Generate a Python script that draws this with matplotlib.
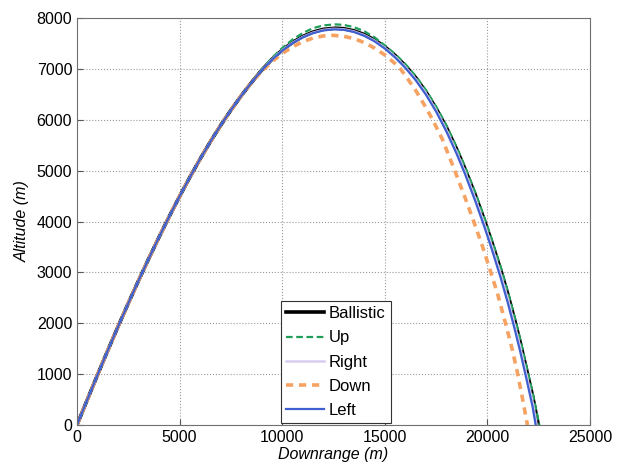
import matplotlib
matplotlib.use("Agg")
import matplotlib.pyplot as plt

# trajectory data (downrange m, altitude m)
# the climb is the same for all five cases
climb_x = [0, 500, 1000, 1500, 2000, 2500, 3000, 3500, 4000, 4500, 5000, 5500,
           6000, 6500, 7000, 7500, 8000, 8500]
climb_y = [0, 496, 985, 1465, 1935, 2394, 2840, 3274, 3695, 4103, 4495, 4871,
           5230, 5570, 5890, 6190, 6470, 6731]

ballistic_x = [9000, 9500, 10000, 10500, 11000, 11500, 12000, 12600, 13000, 13500,
               14000, 14500, 15000, 15500, 16000, 16500, 17000, 17500, 18000, 18500,
               18900, 19400, 19830, 20200, 20640, 21000, 21330, 21600, 21910, 22200, 22480]
ballistic_y = [6975, 7188, 7369, 7519, 7637, 7723, 7777, 7800, 7790, 7748,
               7675, 7570, 7433, 7264, 7064, 6830, 6550, 6220, 5850, 5420,
               5040, 4530, 4050, 3610, 3060, 2560, 2060, 1620, 1080, 570, 0]

up_x = [9000, 9500, 10000, 10500, 11000, 11500, 12000, 12600, 13000, 13500,
        14000, 14500, 15000, 15500, 16000, 16500, 17000, 17500, 18000, 18500,
        18900, 19400, 19830, 20200, 20640, 21000, 21330, 21600, 21910, 22200, 22530]
up_y = [6990, 7215, 7410, 7575, 7705, 7800, 7855, 7875, 7865, 7820,
        7740, 7620, 7462, 7292, 7094, 6862, 6585, 6258, 5890, 5462,
        5085, 4578, 4100, 3662, 3114, 2616, 2118, 1680, 1142, 636, 0]

right_x = [9000, 9500, 10000, 10500, 11000, 11500, 12000, 12500, 13000, 13500,
           14000, 14500, 15000, 15500, 16000, 16500, 17000, 17500, 18000, 18500,
           18900, 19400, 19830, 20200, 20640, 21000, 21330, 21600, 21910, 22200, 22400]
right_y = [6972, 7184, 7363, 7512, 7628, 7712, 7765, 7788, 7778, 7736,
           7662, 7555, 7415, 7243, 7040, 6803, 6522, 6190, 5805, 5370,
           4985, 4465, 3980, 3535, 2975, 2470, 1960, 1525, 975, 455, 0]

down_x = [9000, 9500, 10000, 10500, 11000, 11500, 12000, 12450, 13000, 13500,
          14000, 14500, 15000, 15500, 15720, 16000, 16500, 17000, 17330, 17800,
          18380, 18900, 19350, 19750, 20150, 20500, 20880, 21200, 21450, 21700, 21950]
down_y = [6950, 7141, 7302, 7433, 7534, 7606, 7648, 7660, 7642, 7594,
          7517, 7409, 7272, 7105, 7022, 6870, 6580, 6240, 6000, 5620,
          5030, 4480, 3980, 3520, 3020, 2570, 2000, 1500, 1050, 540, 0]

left_x = [9000, 9500, 10000, 10500, 11000, 11500, 12000, 12500, 13000, 13500,
          14000, 14500, 15000, 15500, 16000, 16500, 17000, 17500, 18000, 18500,
          18900, 19400, 19830, 20200, 20640, 21000, 21330, 21600, 21910, 22200, 22350]
left_y = [6970, 7180, 7358, 7505, 7620, 7703, 7755, 7778, 7768, 7725,
          7650, 7542, 7400, 7225, 7020, 6780, 6495, 6160, 5770, 5330,
          4940, 4410, 3920, 3470, 2900, 2390, 1880, 1440, 890, 360, 0]

x_ticks = [0, 5000, 10000, 15000, 20000, 25000]
y_ticks = [0, 1000, 2000, 3000, 4000, 5000, 6000, 7000, 8000]

plt.rcParams['font.family'] = ['Liberation Sans', 'DejaVu Sans']

fig = plt.figure(figsize=(6.17, 4.68), dpi=100)
ax = fig.add_axes([0.1248, 0.0919, 0.8315, 0.8696])

ax.plot(climb_x + ballistic_x, climb_y + ballistic_y, color='black', lw=2.6,
        label='Ballistic')
ax.plot(climb_x + up_x, climb_y + up_y, color='#1f9e5a', lw=1.6,
        ls=(0, (3, 1.6)), label='Up')
ax.plot(climb_x + right_x, climb_y + right_y, color='#d9ccef', lw=1.8,
        label='Right')
ax.plot(climb_x + down_x, climb_y + down_y, color='#f5a263', lw=2.6,
        ls=(0, (2, 1.6)), label='Down')
ax.plot(climb_x + left_x, climb_y + left_y, color='#3f5fd0', lw=1.6,
        label='Left')

ax.set_xlim(0, 25000)
ax.set_ylim(0, 8000)
ax.set_xticks(x_ticks)
ax.set_yticks(y_ticks)
ax.tick_params(direction='in', labelsize=11.5, length=4, color='#555555')
ax.grid(True, ls=':', color='#999999', lw=0.8)
for s in ax.spines.values():
    s.set_color('#707070')

ax.set_xlabel('Downrange (m)', fontstyle='italic', fontsize=11.5, labelpad=1.5)
ax.set_ylabel('Altitude (m)', fontstyle='italic', fontsize=11.5, labelpad=5)

leg = ax.legend(loc='lower center', bbox_to_anchor=(0.504, 0.005), borderaxespad=0,
                fancybox=False, fontsize=12, handlelength=2.3, handletextpad=0.3,
                labelspacing=0.55, borderpad=0.3, framealpha=1)
leg.get_frame().set_edgecolor('#333333')
leg.get_frame().set_linewidth(0.8)

fig.savefig('out.png', dpi=100)
